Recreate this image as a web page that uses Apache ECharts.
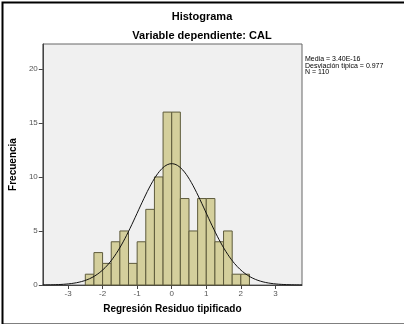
<!DOCTYPE html>
<html>
<head>
<meta charset="utf-8">
<script src="https://cdn.jsdelivr.net/npm/echarts@6/dist/echarts.min.js"></script>
<style>
  html, body { margin: 0; padding: 0; background: #fff; }
  #chart { width: 404px; height: 324px; }
</style>
</head>
<body>
<div id="chart"></div>
<script>
// histogram bins (width 0.25) and counts
const binStart = -2.5
const binWidth = 0.25
const counts = [1, 3, 2, 4, 5, 2, 4, 7, 10, 16, 16, 8, 5, 8, 8, 4, 5, 1, 1]
const xTicks = [-3, -2, -1, 0, 1, 2, 3]
const yTicks = [0, 5, 10, 15, 20]
const stats = { media: '3.40E-16', sd: 0.977, n: 110 }
const statLines = ['Media = 3.40E-16', 'Desviación típica = 0.977', 'N = 110']

const bars = counts.map((c, i) => [binStart + i * binWidth, binStart + (i + 1) * binWidth, c])

// normal curve from the stats shown in the legend
const curve = []
for (let k = 0; k <= 300; k++) {
  const x = -3.73 + k * (7.5 / 300)
  const z = x / stats.sd
  curve.push([x, stats.n * binWidth * Math.exp(-0.5 * z * z) / (stats.sd * Math.sqrt(2 * Math.PI))])
}

const chart = echarts.init(document.getElementById('chart'), null, { renderer: 'canvas' })
const font = 'Liberation Sans, Arial, sans-serif'

chart.setOption({
  backgroundColor: '#fff',
  animation: false,
  textStyle: { fontFamily: font },
  title: [
    { text: 'Histograma', left: 202, top: 11, padding: 0, textAlign: 'center',
      textStyle: { fontSize: 11, fontWeight: 'bold', color: '#000', fontFamily: font } },
    { text: 'Variable dependiente: CAL', left: 202, top: 30, padding: 0, textAlign: 'center',
      textStyle: { fontSize: 11, fontWeight: 'bold', color: '#000', fontFamily: font } }
  ],
  grid: {
    left: 40, top: 44, width: 262, height: 241,
    show: true, backgroundColor: '#f0f0f0', borderColor: '#666', borderWidth: 1
  },
  xAxis: {
    type: 'value', min: -3.73, max: 3.77,
    name: 'Regresión Residuo tipificado', nameLocation: 'middle', nameGap: 19,
    nameTextStyle: { fontSize: 10, fontWeight: 'bold', color: '#000' },
    splitLine: { show: false },
    axisLine: { onZero: false, lineStyle: { color: '#444' } },
    axisTick: { length: 4, lineStyle: { color: '#444' }, customValues: xTicks },
    axisLabel: { fontSize: 8, color: '#555', margin: 5, customValues: xTicks }
  },
  yAxis: {
    type: 'value', min: 0, max: 22.3,
    name: 'Frecuencia', nameLocation: 'middle', nameGap: 8,
    nameTextStyle: { fontSize: 10, fontWeight: 'bold', color: '#000' },
    splitLine: { show: false },
    axisLine: { show: true, onZero: false, lineStyle: { color: '#444' } },
    axisTick: { show: true, length: 4, lineStyle: { color: '#444' }, customValues: yTicks },
    axisLabel: { fontSize: 8, color: '#555', margin: 5, customValues: yTicks }
  },
  series: [
    {
      type: 'custom',
      data: bars,
      renderItem: (params, api) => {
        const p0 = api.coord([api.value(0), api.value(2)])
        const p1 = api.coord([api.value(1), 0])
        return {
          type: 'rect',
          shape: { x: p0[0], y: p0[1], width: p1[0] - p0[0], height: p1[1] - p0[1] },
          style: { fill: '#d4cf9c', stroke: '#5e5b3c', lineWidth: 1 }
        }
      },
      z: 2
    },
    {
      type: 'line',
      data: curve,
      showSymbol: false,
      lineStyle: { color: '#111', width: 1 },
      z: 3
    }
  ],
  graphic: [
    {
      type: 'text', left: 305, top: 56,
      style: { text: statLines.join('\n'), fontSize: 7, lineHeight: 6.5, fill: '#000', fontFamily: font }
    },
    {
      type: 'rect', left: 0, top: 0,
      shape: { x: 0, y: 0, width: 403, height: 322 },
      style: { fill: 'none', stroke: '#000', lineWidth: 2 }
    }
  ]
})
</script>
</body>
</html>
